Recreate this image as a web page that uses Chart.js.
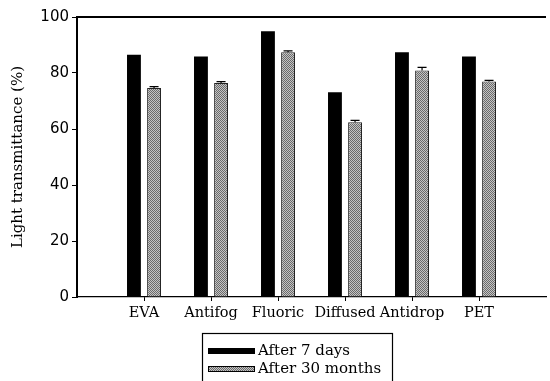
<!DOCTYPE html>
<html>
<head>
<meta charset="utf-8">
<script src="https://cdn.jsdelivr.net/npm/chart.js@4/dist/chart.umd.min.js"></script>
<style>
  html, body { margin: 0; padding: 0; background: #fff; }
  #wrap { width: 550px; height: 381px; }
</style>
</head>
<body>
<div id="wrap"><canvas id="lightChart"></canvas></div>
<script>
// data
const categories = ['EVA', 'Antifog', 'Fluoric', 'Diffused', 'Antidrop', 'PET'];
const after7Days = [86.5, 85.9, 94.9, 73.1, 87.4, 85.9];
const after30Months = [74.6, 76.4, 87.4, 62.4, 80.9, 77.0];
const after30MonthsErr = [0.5, 0.5, 0.5, 0.7, 1.1, 0.4];
const yTicks = [0, 20, 40, 60, 80, 100];

// empty slot at each end, the axis runs past the outer groups
const labels = [''].concat(categories, ['']);
const pad = arr => [null].concat(arr, [null]);

// grey halftone fill for the 30-month bars
function halftone() {
    const c = document.createElement('canvas');
    c.width = 2; c.height = 2;
    const g = c.getContext('2d');
    g.fillStyle = '#c4c4c4';
    g.fillRect(0, 0, 2, 2);
    g.fillStyle = '#6a6a6a';
    g.fillRect(0, 0, 1, 1);
    g.fillRect(1, 1, 1, 1);
    return g.createPattern(c, 'repeat');
}
const grey = halftone();

const frame = {
    id: 'frame',
    afterDraw(chart) {
        const { ctx, chartArea } = chart;
        ctx.save();
        ctx.strokeStyle = '#000';
        ctx.lineWidth = 2;
        ctx.beginPath();
        ctx.moveTo(chartArea.left - 1, chartArea.top);
        ctx.lineTo(chartArea.right, chartArea.top);
        ctx.stroke();

        // error caps on the 30-month bars
        const meta = chart.getDatasetMeta(1);
        const y = chart.scales.y;
        ctx.lineWidth = 1.2;
        meta.data.forEach((bar, i) => {
            const err = after30MonthsErr[i - 1];
            if (!err) return;
            const v = chart.data.datasets[1].data[i];
            const y0 = y.getPixelForValue(v);
            const y1 = y.getPixelForValue(v + err);
            ctx.beginPath();
            ctx.moveTo(bar.x, y0);
            ctx.lineTo(bar.x, y1);
            ctx.moveTo(bar.x - 4.5, y1);
            ctx.lineTo(bar.x + 4.5, y1);
            ctx.stroke();
        });

        // legend box, its bottom edge runs off the page
        const bx = 202, by = 333, bw = 190, bh = 52;
        ctx.lineWidth = 1.2;
        ctx.strokeRect(bx + 0.5, by + 0.5, bw, bh);
        ctx.font = '15px "DejaVu Serif"';
        ctx.textBaseline = 'middle';
        chart.data.datasets.forEach((ds, k) => {
            const ry = by + 18 + k * 18;
            ctx.fillStyle = ds.backgroundColor;
            ctx.fillRect(bx + 6, ry - 3, 47, 6);
            ctx.lineWidth = 1;
            ctx.strokeRect(bx + 6.5, ry - 2.5, 46, 5);
            ctx.fillStyle = '#000';
            ctx.fillText(ds.label, bx + 56, ry);
        });
        ctx.restore();
    }
};

new Chart(document.getElementById('lightChart'), {
    type: 'bar',
    data: {
        labels: labels,
        datasets: [{
            label: 'After 7 days',
            data: pad(after7Days),
            backgroundColor: '#000',
            borderColor: '#000',
            borderWidth: 0
        }, {
            label: 'After 30 months',
            data: pad(after30Months),
            backgroundColor: grey,
            borderColor: '#222',
            borderWidth: 1
        }]
    },
    options: {
        responsive: true,
        maintainAspectRatio: false,
        animation: false,
        categoryPercentage: 0.6,
        barPercentage: 0.69,
        layout: { padding: { top: 17, right: 0, left: 0, bottom: 0 } },
        plugins: {
            legend: { display: false },
            tooltip: { enabled: false }
        },
        scales: {
            x: {
                offset: false,
                afterFit(scale) { scale.height = 84; },
                grid: {
                    offset: false,
                    drawOnChartArea: false,
                    drawTicks: true,
                    tickLength: 4,
                    color: c => (labels[c.index] ? '#000' : 'rgba(0,0,0,0)')
                },
                border: { display: true, color: '#000', width: 1.2, dash: [3, 1.5] },
                ticks: {
                    color: '#000',
                    padding: 4,
                    maxRotation: 0,
                    autoSkip: false,
                    font: { family: 'DejaVu Serif', size: 14.5 }
                }
            },
            y: {
                min: 0,
                max: 100,
                afterFit(scale) { scale.width = 77; },
                afterBuildTicks(scale) { scale.ticks = yTicks.map(v => ({ value: v })); },
                grid: { drawOnChartArea: false, drawTicks: true, tickLength: 5, color: '#000' },
                border: { display: true, color: '#000', width: 2 },
                ticks: {
                    color: '#000',
                    padding: 3,
                    font: { family: 'DejaVu Sans', size: 15 }
                },
                title: {
                    display: true,
                    text: 'Light transmittance (%)',
                    color: '#000',
                    padding: { top: 9, bottom: 0 },
                    font: { family: 'DejaVu Serif', size: 15 }
                }
            }
        }
    },
    plugins: [frame]
});
</script>
</body>
</html>
